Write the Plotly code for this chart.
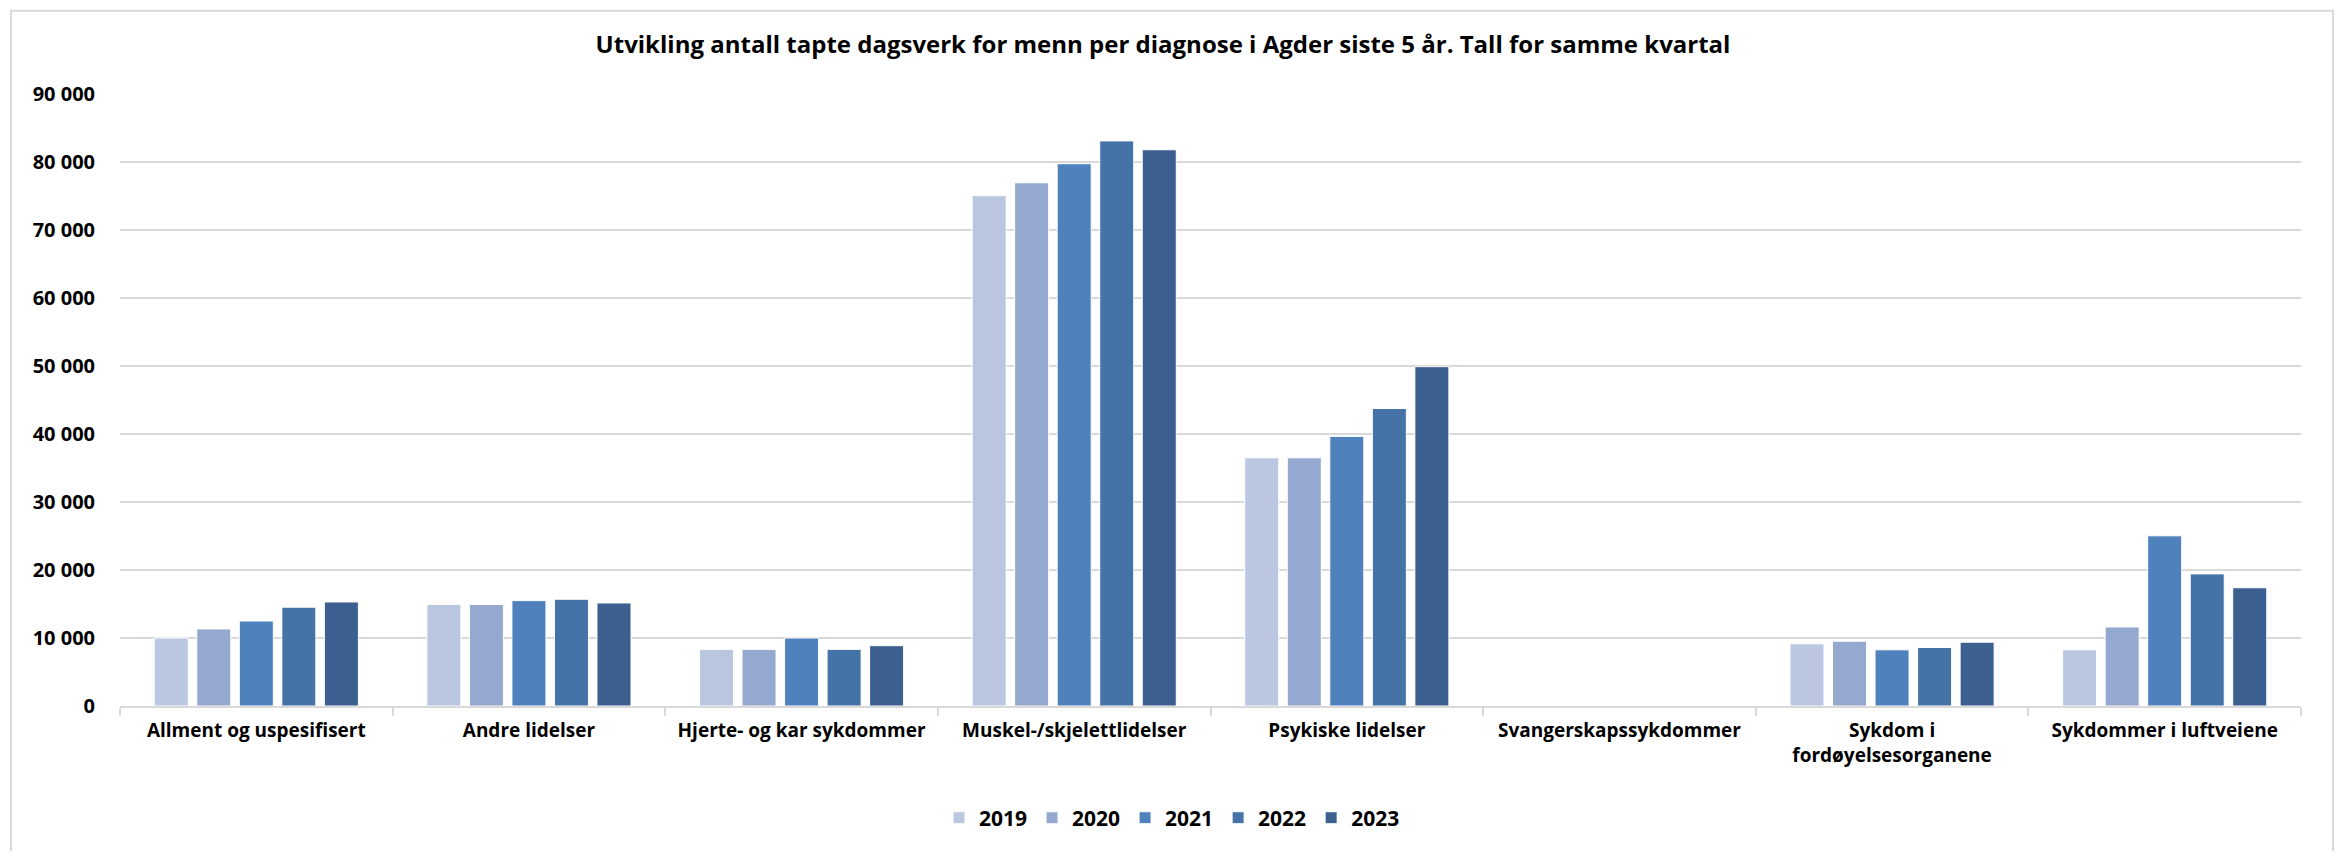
import plotly.graph_objects as go

W, H = 2343, 859
FW, FH = W - 16, H - 16          # siden har 8 px marg rundt figuren
L, R, T, B = 112, 34, 86, 140

kategorier = [
    "Allment og uspesifisert",
    "Andre lidelser",
    "Hjerte- og kar sykdommer",
    "Muskel-/skjelettlidelser",
    "Psykiske lidelser",
    "Svangerskapssykdommer",
    "Sykdom i<br>fordøyelsesorganene",
    "Sykdommer i luftveiene",
]
aar = ["2019", "2020", "2021", "2022", "2023"]

v2019 = [10000, 14930, 8330, 75050, 36500, 0, 9140, 8260]
v2020 = [11330, 14930, 8330, 76950, 36500, 0, 9520, 11620]
v2021 = [12500, 15500, 10000, 79750, 39650, 0, 8260, 25030]
v2022 = [14530, 15700, 8330, 83100, 43750, 0, 8600, 19430]
v2023 = [15300, 15150, 8870, 81800, 49900, 0, 9380, 17390]
verdier = [v2019, v2020, v2021, v2022, v2023]

farger = ["#BBC7E0", "#95A9D0", "#4F81BD", "#4573A7", "#3B5F8F"]

fig = go.Figure()
for navn, y, farge in zip(aar, verdier, farger):
    fig.add_bar(x=kategorier, y=y, name="<b>" + navn + "</b>",
                marker=dict(color=farge, line=dict(color="white", width=1)))

grid = "#D9D9D9"
ph = FH - T - B
pw = FW - L - R
fig.update_layout(
    width=FW, height=FH,
    margin=dict(l=L, r=R, t=T, b=B),
    paper_bgcolor="white", plot_bgcolor="white",
    font=dict(family="Open Sans", color="#000000", size=19),
    separators=", ",
    title=dict(text="<b>Utvikling antall tapte dagsverk for menn per diagnose i Agder siste 5 år. Tall for samme kvartal</b>",
               x=(1163 - 8) / FW, xref="container", xanchor="center", y=1 - 37 / FH, yanchor="middle",
               font=dict(size=24)),
    barmode="group", bargap=0.22, bargroupgap=0.2,
    legend=dict(orientation="h", x=(1172 - 8 - L) / pw, xanchor="center",
                y=-(816 - (FH - B)) / ph, yanchor="middle",
                font=dict(size=21), itemwidth=30, traceorder="normal"),
    showlegend=True,
)
fig.update_xaxes(
    showgrid=False, showline=True, linecolor=grid, linewidth=2,
    ticks="outside", tickson="boundaries", ticklen=8, tickcolor=grid, tickwidth=2,
    tickfont=dict(size=19), ticklabelstandoff=6, tickangle=0,
    tickprefix="<b>", ticksuffix="</b>",
)
fig.update_yaxes(
    range=[0, 90000], dtick=10000, tickformat=",d",
    showgrid=True, gridcolor=grid, gridwidth=2, zeroline=False,
    showline=False, ticks="", ticklabelstandoff=24,
    tickfont=dict(size=20),
    tickprefix="<b>", ticksuffix="</b>",
)
# rammen rundt diagrammet
fig.add_shape(type="rect", xref="paper", yref="paper",
              x0=(3 - L) / pw, x1=(FW - 2 - L) / pw,
              y0=-(FH + 8 - (FH - B)) / ph, y1=1 + (T - 2) / ph,
              line=dict(color="#D9D9D9", width=2), layer="below")

fig.write_html("out.html")
